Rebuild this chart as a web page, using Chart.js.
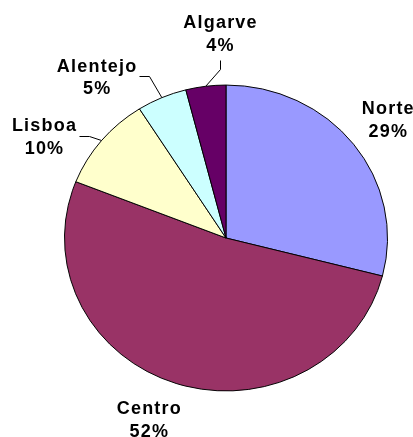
<!DOCTYPE html>
<html><head><meta charset="utf-8">
<script src="https://cdn.jsdelivr.net/npm/chart.js@4"></script>
<style>html,body{margin:0;padding:0;background:#fff}#wrap{width:413px;height:437px}</style>
</head><body><div id="wrap"><canvas id="c" width="413" height="437"></canvas></div>
<script>
const regions = ['Norte', 'Centro', 'Lisboa', 'Alentejo', 'Algarve'];
const shares = [29, 52, 10, 5, 4];
const sliceColors = ['#9999FF', '#993366', '#FFFFCC', '#CCFFFF', '#660066'];

// label layout (distance as fraction of radius, angle shift in degrees, leader style)
const labelLayout = [
  {dist: 1.267, shift: 0, leader: null},
  {dist: 1.277, shift: 4, leader: null},
  {dist: 1.31, shift: -9, leader: 'side'},
  {dist: 1.326, shift: -13.8, leader: 'side'},
  {dist: 1.338, shift: 5.6, leader: 'bottom'}
];
const Y_SQUASH = 0.947;
const FONT = 'bold 18px "Liberation Sans", Arial, sans-serif';
const SPACING = 1.2;
const LINE_GAP = 22.5;

const squashPlugin = {
  id: 'squash',
  beforeDatasetsDraw(chart) {
    const arc = chart.getDatasetMeta(0).data[0];
    const ctx = chart.ctx;
    ctx.save();
    ctx.translate(arc.x, arc.y);
    ctx.scale(1, Y_SQUASH);
    ctx.translate(-arc.x, -arc.y);
  },
  afterDatasetsDraw(chart) {
    chart.ctx.restore();
  }
};

const labelPlugin = {
  id: 'outLabels',
  afterDraw(chart) {
    const ctx = chart.ctx;
    const meta = chart.getDatasetMeta(0);
    const data = chart.data.datasets[0].data;
    const total = data.reduce((a, b) => a + b, 0);
    ctx.save();
    ctx.font = FONT;
    try { ctx.letterSpacing = SPACING + 'px'; } catch (e) {}
    ctx.fillStyle = '#000';
    ctx.strokeStyle = '#000';
    ctx.lineWidth = 1;
    ctx.textAlign = 'center';
    ctx.textBaseline = 'alphabetic';
    meta.data.forEach((arc, i) => {
      const p = arc.getProps(['x', 'y', 'startAngle', 'endAngle', 'outerRadius'], true);
      const mid = (p.startAngle + p.endAngle) / 2;
      const L = labelLayout[i];
      const a = mid + L.shift * Math.PI / 180;
      const lx = p.x + Math.cos(a) * p.outerRadius * L.dist;
      const ly = p.y + Math.sin(a) * p.outerRadius * L.dist * Y_SQUASH;
      const lines = [chart.data.labels[i], Math.round(data[i] / total * 100) + '%'];
      const b1 = ly - LINE_GAP / 2 + 6.3;
      lines.forEach((t, k) => ctx.fillText(t, lx + SPACING / 2, b1 + k * LINE_GAP));
      if (L.leader) {
        const px = p.x + Math.cos(mid) * p.outerRadius;
        const py = p.y + Math.sin(mid) * p.outerRadius * Y_SQUASH;
        let ax, ay, ex, ey;
        if (L.leader === 'side') {
          const w = Math.max(...lines.map(t => ctx.measureText(t).width)) - SPACING;
          ax = lx + w / 2 + 3; ay = ly;
          ex = ax + 10; ey = ay;
        } else {
          ax = lx; ay = ly + LINE_GAP / 2 + 15;
          ex = ax; ey = ay + 9;
        }
        ctx.beginPath();
        ctx.moveTo(px, py);
        ctx.lineTo(Math.round(ex) + 0.5, Math.round(ey) + 0.5);
        ctx.lineTo(Math.round(ax) + 0.5, Math.round(ay) + 0.5);
        ctx.stroke();
      }
    });
    ctx.restore();
  }
};

new Chart(document.getElementById('c'), {
  type: 'pie',
  data: {
    labels: regions,
    datasets: [{
      data: shares,
      backgroundColor: sliceColors,
      borderColor: '#000',
      borderWidth: 1,
      hoverOffset: 0
    }]
  },
  options: {
    responsive: false,
    animation: false,
    layout: {padding: {left: 64, right: 25, top: 76, bottom: 37}},
    plugins: {legend: {display: false}, tooltip: {enabled: false}}
  },
  plugins: [squashPlugin, labelPlugin]
});
</script>
</body></html>
